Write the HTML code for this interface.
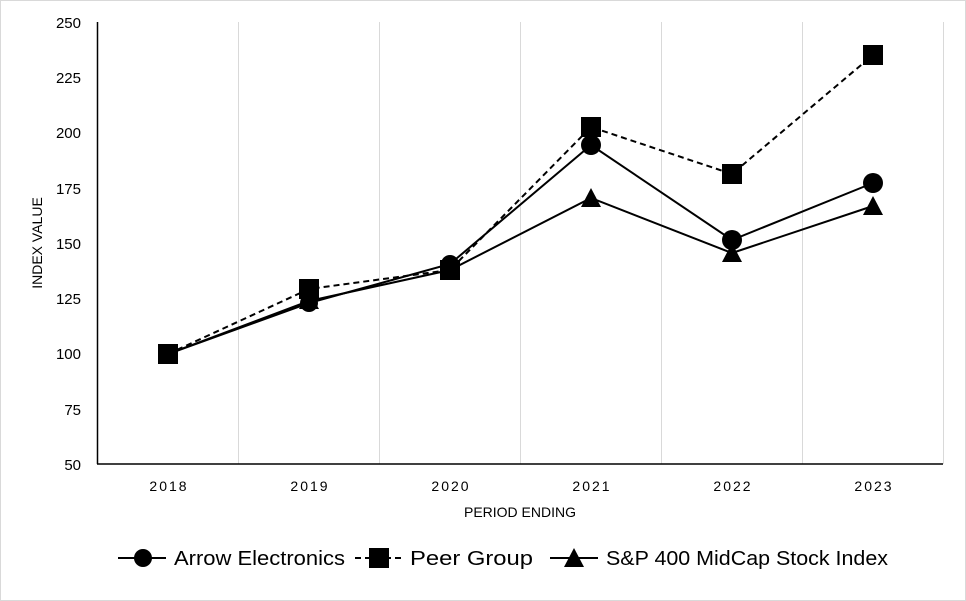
<!DOCTYPE html>
<html><head><meta charset="utf-8"><style>
html,body{margin:0;padding:0;background:#fff;}
svg{display:block;font-family:"Liberation Sans",Calibri,sans-serif;}
</style></head><body>
<svg width="966" height="601" viewBox="0 0 966 601" xmlns="http://www.w3.org/2000/svg">
<rect x="0.5" y="0.5" width="965" height="600" fill="#fff" stroke="#d9d9d9"/>
<g stroke="#d9d9d9" stroke-width="1">
<line x1="238.5" y1="22" x2="238.5" y2="464"/>
<line x1="379.5" y1="22" x2="379.5" y2="464"/>
<line x1="520.5" y1="22" x2="520.5" y2="464"/>
<line x1="661.5" y1="22" x2="661.5" y2="464"/>
<line x1="802.5" y1="22" x2="802.5" y2="464"/>
<line x1="943.5" y1="22" x2="943.5" y2="464"/>
</g>
<line x1="97.5" y1="22" x2="97.5" y2="464" stroke="#000" stroke-width="1.5"/>
<line x1="97" y1="464" x2="943" y2="464" stroke="#000" stroke-width="1.5"/>
<g font-size="15" text-anchor="end" fill="#000">
<text x="81" y="28">250</text><text x="81" y="83">225</text><text x="81" y="138">200</text>
<text x="81" y="194">175</text><text x="81" y="249">150</text><text x="81" y="304">125</text>
<text x="81" y="359">100</text><text x="81" y="415">75</text><text x="81" y="470">50</text>
</g>
<g font-size="14" text-anchor="middle" letter-spacing="2" fill="#000">
<text x="169" y="491">2018</text><text x="310" y="491">2019</text><text x="451" y="491">2020</text>
<text x="592" y="491">2021</text><text x="733" y="491">2022</text><text x="874" y="491">2023</text>
</g>
<text x="520" y="517" font-size="14" text-anchor="middle">PERIOD ENDING</text>
<text transform="translate(42,243) rotate(-90)" font-size="14" text-anchor="middle">INDEX VALUE</text>
<polyline points="168,354 309,289 450,270 591,127 732,174 873,55" fill="none" stroke="#000" stroke-width="2" stroke-dasharray="6,4"/>
<polyline points="168,354 309,303 450,264 591,145 732,240 873,183" fill="none" stroke="#000" stroke-width="2"/>
<polyline points="168,354 309,301 450,270 591,198 732,253 873,206" fill="none" stroke="#000" stroke-width="2"/>
<g fill="#000">
<rect x="158" y="344" width="20" height="20"/><rect x="299" y="279" width="20" height="20"/>
<rect x="440" y="260" width="20" height="20"/><rect x="581" y="117" width="20" height="20"/>
<rect x="722" y="164" width="20" height="20"/><rect x="863" y="45" width="20" height="20"/>
<circle cx="309" cy="303" r="9"/><circle cx="450" cy="264" r="9"/><circle cx="591" cy="145" r="10"/>
<circle cx="732" cy="240" r="10"/><circle cx="873" cy="183" r="10"/>
<polygon points="309,291 319,309 299,309"/><polygon points="591,188 601,207 581,207"/>
<polygon points="732,243 742,262 722,262"/><polygon points="873,196 883,215 863,215"/>
</g>
<g stroke="#000" stroke-width="2">
<line x1="118" y1="558" x2="166" y2="558"/>
<line x1="355" y1="558" x2="403" y2="558" stroke-dasharray="6,4"/>
<line x1="550" y1="558" x2="598" y2="558"/>
</g>
<circle cx="143" cy="558" r="9"/>
<rect x="369" y="548" width="20" height="20"/>
<polygon points="574,548 584,567 564,567"/>
<g font-size="20" fill="#000">
<text x="174" y="565" textLength="171" lengthAdjust="spacingAndGlyphs">Arrow Electronics</text>
<text x="410" y="565" textLength="123" lengthAdjust="spacingAndGlyphs">Peer Group</text>
<text x="606" y="565" textLength="282" lengthAdjust="spacingAndGlyphs">S&amp;P 400 MidCap Stock Index</text>
</g>
</svg>
</body></html>
